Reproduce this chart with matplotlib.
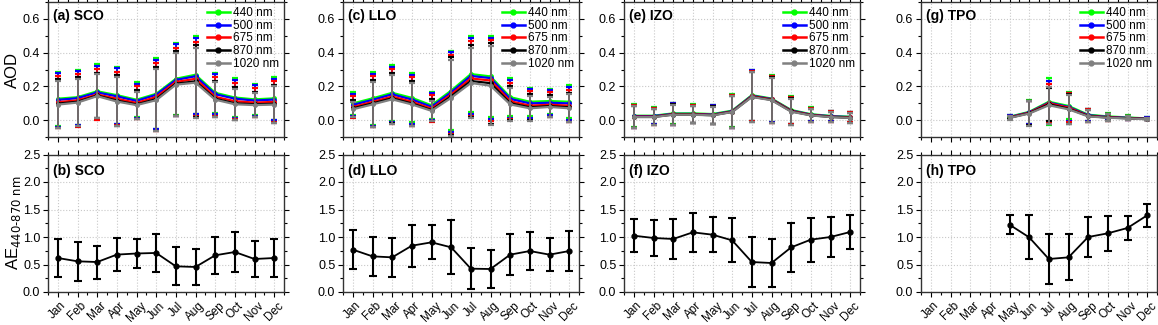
import matplotlib
matplotlib.use("Agg")

import matplotlib.pyplot as plt
from matplotlib.lines import Line2D
from matplotlib.ticker import MultipleLocator

plt.rcParams["font.family"] = ["Liberation Sans", "DejaVu Sans"]

months = ["Jan", "Feb", "Mar", "Apr", "May", "Jun",
          "Jul", "Aug", "Sep", "Oct", "Nov", "Dec"]
wavelengths = ["440 nm", "500 nm", "675 nm", "870 nm", "1020 nm"]
stations = ["SCO", "LLO", "IZO", "TPO"]

# AOD monthly mean / std, one row per wavelength (440, 500, 675, 870, 1020)
sco_aod_mean = [
    [0.127, 0.136, 0.171, 0.148, 0.121, 0.156, 0.245, 0.269, 0.162, 0.134, 0.123, 0.129],
    [0.120, 0.130, 0.164, 0.141, 0.114, 0.150, 0.238, 0.260, 0.154, 0.127, 0.116, 0.122],
    [0.107, 0.117, 0.152, 0.127, 0.102, 0.137, 0.226, 0.245, 0.138, 0.112, 0.104, 0.108],
    [0.098, 0.109, 0.146, 0.116, 0.093, 0.125, 0.216, 0.230, 0.127, 0.100, 0.094, 0.097],
    [0.092, 0.104, 0.142, 0.110, 0.089, 0.118, 0.210, 0.222, 0.121, 0.094, 0.089, 0.092],
]
sco_aod_std = [
    [0.161, 0.162, 0.162, 0.169, 0.103, 0.210, 0.215, 0.231, 0.120, 0.115, 0.093, 0.126],
    [0.158, 0.159, 0.158, 0.165, 0.100, 0.205, 0.211, 0.226, 0.117, 0.112, 0.090, 0.123],
    [0.156, 0.156, 0.150, 0.157, 0.098, 0.200, 0.204, 0.218, 0.115, 0.108, 0.086, 0.122],
    [0.145, 0.144, 0.136, 0.149, 0.084, 0.188, 0.193, 0.214, 0.107, 0.097, 0.073, 0.113],
    [0.140, 0.139, 0.131, 0.144, 0.080, 0.183, 0.188, 0.208, 0.103, 0.093, 0.070, 0.109],
]
llo_aod_mean = [
    [0.099, 0.129, 0.162, 0.132, 0.088, 0.175, 0.273, 0.259, 0.136, 0.109, 0.113, 0.109],
    [0.090, 0.120, 0.153, 0.122, 0.079, 0.165, 0.262, 0.249, 0.126, 0.099, 0.103, 0.099],
    [0.078, 0.108, 0.140, 0.109, 0.068, 0.152, 0.247, 0.235, 0.112, 0.086, 0.091, 0.086],
    [0.070, 0.099, 0.130, 0.099, 0.060, 0.141, 0.232, 0.219, 0.101, 0.076, 0.083, 0.076],
    [0.064, 0.093, 0.123, 0.093, 0.055, 0.132, 0.220, 0.204, 0.093, 0.070, 0.078, 0.070],
]
llo_aod_std = [
    [0.067, 0.155, 0.165, 0.146, 0.079, 0.236, 0.224, 0.240, 0.113, 0.082, 0.074, 0.097],
    [0.066, 0.153, 0.164, 0.146, 0.079, 0.236, 0.223, 0.240, 0.112, 0.084, 0.075, 0.096],
    [0.064, 0.151, 0.162, 0.146, 0.078, 0.234, 0.220, 0.238, 0.108, 0.085, 0.075, 0.095],
    [0.049, 0.137, 0.148, 0.131, 0.063, 0.231, 0.212, 0.239, 0.099, 0.076, 0.063, 0.086],
    [0.046, 0.133, 0.144, 0.127, 0.060, 0.226, 0.207, 0.234, 0.096, 0.073, 0.060, 0.083],
]
izo_aod_mean = [
    [0.026, 0.026, 0.040, 0.040, 0.036, 0.056, 0.148, 0.128, 0.060, 0.035, 0.025, 0.020],
    [0.024, 0.024, 0.037, 0.037, 0.033, 0.053, 0.145, 0.125, 0.057, 0.033, 0.023, 0.018],
    [0.021, 0.021, 0.035, 0.035, 0.031, 0.051, 0.142, 0.123, 0.055, 0.031, 0.021, 0.016],
    [0.019, 0.019, 0.033, 0.033, 0.029, 0.049, 0.139, 0.120, 0.052, 0.029, 0.019, 0.014],
    [0.018, 0.018, 0.032, 0.032, 0.028, 0.048, 0.137, 0.118, 0.050, 0.028, 0.018, 0.013],
]
izo_aod_std = [
    [0.068, 0.050, 0.064, 0.055, 0.056, 0.098, 0.152, 0.140, 0.082, 0.041, 0.032, 0.031],
    [0.068, 0.049, 0.064, 0.054, 0.055, 0.097, 0.152, 0.139, 0.081, 0.041, 0.031, 0.030],
    [0.068, 0.049, 0.063, 0.054, 0.055, 0.096, 0.150, 0.138, 0.080, 0.040, 0.031, 0.030],
    [0.066, 0.047, 0.061, 0.052, 0.053, 0.095, 0.148, 0.136, 0.078, 0.039, 0.030, 0.029],
    [0.064, 0.045, 0.059, 0.050, 0.051, 0.093, 0.146, 0.134, 0.076, 0.038, 0.029, 0.028],
]
# TPO only has data May-Dec
tpo_months = months[4:]
tpo_aod_mean = [
    [0.020, 0.049, 0.109, 0.084, 0.032, 0.022, 0.016, 0.010],
    [0.018, 0.046, 0.104, 0.078, 0.029, 0.019, 0.014, 0.008],
    [0.016, 0.044, 0.100, 0.074, 0.026, 0.017, 0.012, 0.007],
    [0.014, 0.041, 0.094, 0.068, 0.024, 0.015, 0.011, 0.006],
    [0.013, 0.039, 0.088, 0.064, 0.022, 0.014, 0.010, 0.005],
]
tpo_aod_std = [
    [0.010, 0.070, 0.140, 0.080, 0.036, 0.020, 0.012, 0.008],
    [0.010, 0.070, 0.128, 0.082, 0.036, 0.020, 0.012, 0.008],
    [0.010, 0.070, 0.112, 0.084, 0.037, 0.021, 0.012, 0.008],
    [0.010, 0.072, 0.098, 0.088, 0.038, 0.022, 0.013, 0.008],
    [0.010, 0.072, 0.110, 0.085, 0.036, 0.021, 0.012, 0.007],
]

# Angstrom exponent 440-870 nm
sco_ae = [0.618, 0.558, 0.545, 0.680, 0.700, 0.710, 0.467, 0.455, 0.667, 0.727, 0.600, 0.618]
sco_ae_std = [0.35, 0.36, 0.30, 0.30, 0.26, 0.35, 0.345, 0.32, 0.34, 0.36, 0.33, 0.34]
llo_ae = [0.770, 0.648, 0.630, 0.842, 0.903, 0.812, 0.424, 0.418, 0.679, 0.745, 0.679, 0.745]
llo_ae_std = [0.35, 0.35, 0.35, 0.38, 0.31, 0.49, 0.37, 0.34, 0.37, 0.34, 0.30, 0.37]
izo_ae = [1.024, 0.982, 0.964, 1.085, 1.042, 0.939, 0.545, 0.527, 0.812, 0.952, 1.000, 1.091]
izo_ae_std = [0.30, 0.33, 0.37, 0.35, 0.32, 0.40, 0.46, 0.44, 0.44, 0.40, 0.36, 0.31]
tpo_ae = [1.224, 0.994, 0.600, 0.630, 1.000, 1.067, 1.164, 1.394]
tpo_ae_std = [0.17, 0.40, 0.45, 0.42, 0.37, 0.32, 0.22, 0.21]

wl_colors = ["#00ff00", "#0000ff", "#ff0000", "#000000", "#808080"]


def style_axis(ax, major, minor):
    ax.set_xlim(0.5, 12.5)
    ax.set_xticks(range(1, 13))
    ax.xaxis.set_minor_locator(MultipleLocator(0.5))
    ax.yaxis.set_major_locator(MultipleLocator(major))
    ax.yaxis.set_minor_locator(MultipleLocator(minor))
    ax.tick_params(which="both", direction="out", top=True, right=True,
                   labelsize=9, pad=2)
    ax.tick_params(which="major", length=3.5, width=0.8)
    ax.tick_params(which="minor", length=2, width=0.8)
    ax.grid(True, which="major", linestyle=":", color="#c8c8c8", linewidth=0.8)
    ax.set_axisbelow(True)
    for sp in ax.spines.values():
        sp.set_linewidth(1.0)
        sp.set_color("#333333")


fig = plt.figure(figsize=(11.58, 3.25), dpi=100)
W, H = 1158, 325
lefts = [48, 343, 624, 921]
width = 236

aod_means = [sco_aod_mean, llo_aod_mean, izo_aod_mean, tpo_aod_mean]
aod_stds = [sco_aod_std, llo_aod_std, izo_aod_std, tpo_aod_std]
ae_means = [sco_ae, llo_ae, izo_ae, tpo_ae]
ae_stds = [sco_ae_std, llo_ae_std, izo_ae_std, tpo_ae_std]
top_letters = ["(a)", "(c)", "(e)", "(g)"]
bot_letters = ["(b)", "(d)", "(f)", "(h)"]

handles = [Line2D([], [], color=c, lw=1.8, marker="o", ms=3.5) for c in wl_colors]

for i, st in enumerate(stations):
    x = [months.index(m) + 1 for m in (tpo_months if st == "TPO" else months)]

    ax1 = fig.add_axes([lefts[i] / W, (H - 137) / H, width / W, 135 / H])
    for j, wl in enumerate(wavelengths):
        ax1.errorbar(x, aod_means[i][j], yerr=aod_stds[i][j], color=wl_colors[j],
                     ecolor=wl_colors[j], elinewidth=1.2, capsize=2.3, capthick=1.6,
                     lw=1.6, marker="o", ms=2.5, zorder=3 + j)
    style_axis(ax1, 0.2, 0.1)
    ax1.set_ylim(-0.1, 0.7)
    ax1.tick_params(axis="x", labelbottom=False)
    ax1.text(0.02, 0.95, f"{top_letters[i]} {st}", transform=ax1.transAxes,
             fontsize=10, fontweight="bold", va="top", ha="left")
    ax1.legend(handles, wavelengths, loc="upper right", frameon=False, fontsize=8.5,
               handlelength=2.0, handletextpad=0.2, labelspacing=0.05,
               borderaxespad=0.15, borderpad=0.3)

    ax2 = fig.add_axes([lefts[i] / W, (H - 292) / H, width / W, 137.5 / H])
    ax2.errorbar(x, ae_means[i], yerr=ae_stds[i], color="black", lw=1.3,
                 marker="o", ms=3.5, elinewidth=1.5, capsize=3, capthick=1.5,
                 zorder=3)
    style_axis(ax2, 0.5, 0.25)
    ax2.set_ylim(0, 2.5)
    ax2.set_xticklabels(months, rotation=45, ha="center", fontsize=8.5)
    ax2.text(0.02, 0.93, f"{bot_letters[i]} {st}", transform=ax2.transAxes,
             fontsize=10, fontweight="bold", va="top", ha="left")

    if i == 0:
        ax1.set_ylabel("AOD", fontsize=12, labelpad=2)
        ax2.set_ylabel(r"AE$_{\mathrm{440\text{-}870\ nm}}$", fontsize=12, labelpad=0)

fig.savefig("out.png", dpi=100)
plt.close(fig)
